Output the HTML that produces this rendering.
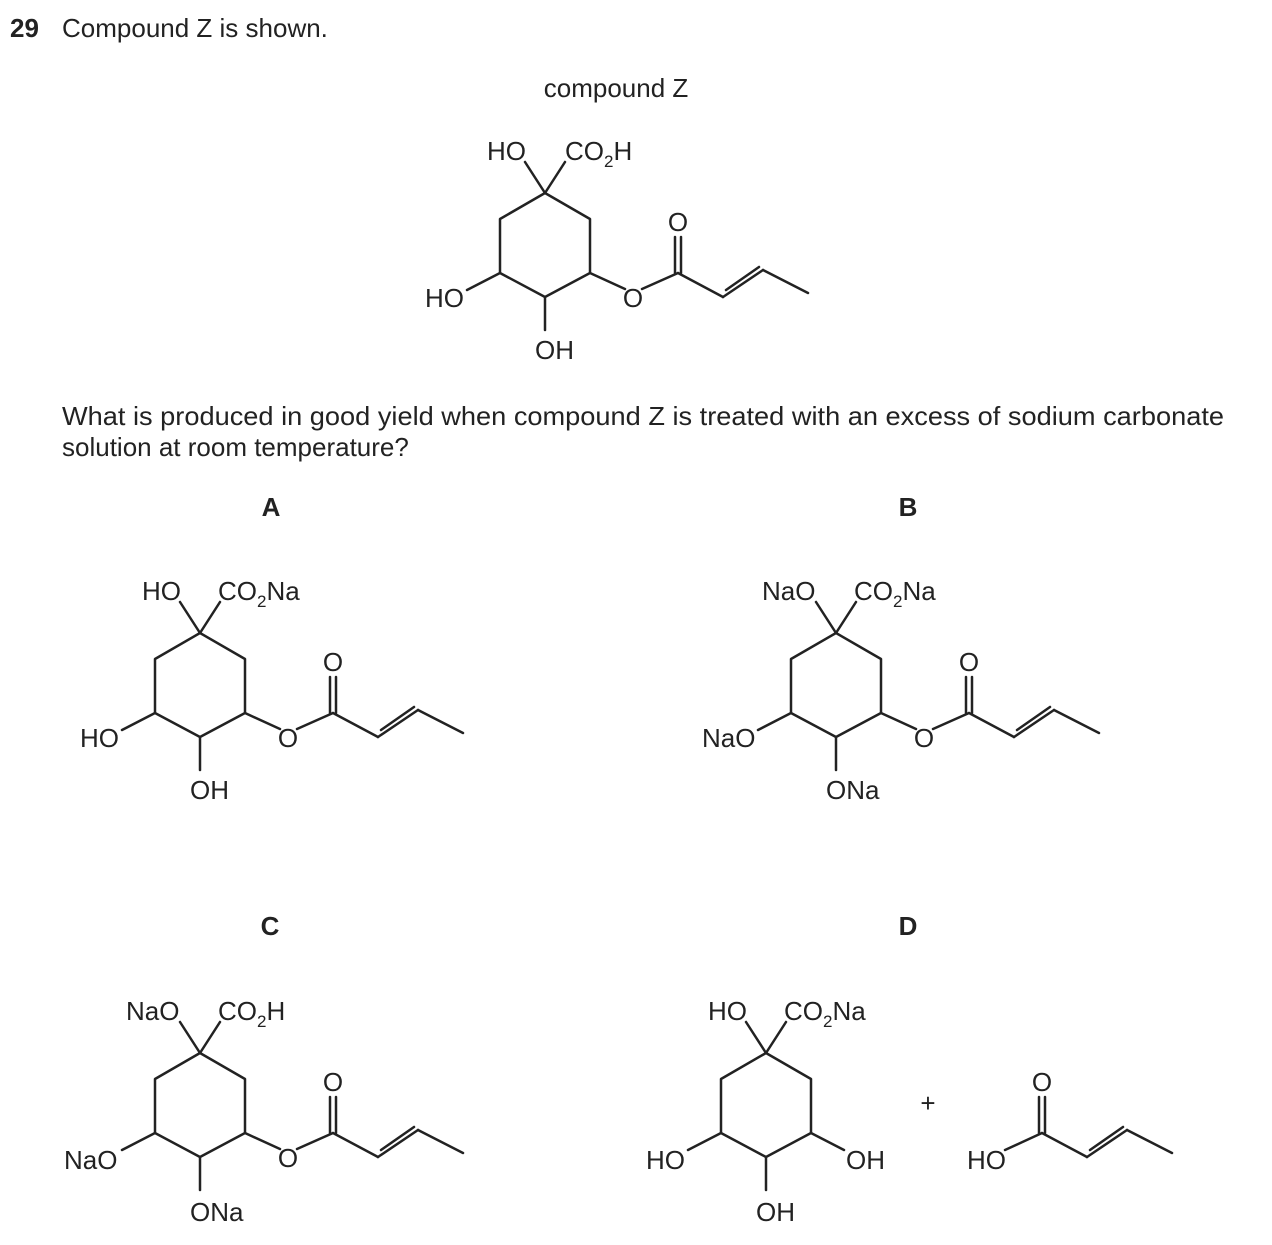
<!DOCTYPE html>
<html><head><meta charset="utf-8"><style>
html,body{margin:0;padding:0;background:#fff;}
svg{display:block;}
text{font-family:"Liberation Sans",sans-serif;font-size:26px;fill:#222;}
.b{font-weight:bold;}
line,polyline{stroke:#222;stroke-width:2.5;fill:none;stroke-linecap:round;}
</style></head><body>
<svg width="1272" height="1245" viewBox="0 0 1272 1245" xmlns="http://www.w3.org/2000/svg">
<defs>
<g id="ring">
<polygon points="0,0 -45,26 -45,80 0,104 45,80 45,26" style="stroke:#222;stroke-width:2.5;fill:none;stroke-linejoin:round"/>
<line x1="0" y1="0" x2="-20" y2="-31"/>
<line x1="0" y1="0" x2="20" y2="-31"/>
<line x1="-45" y1="80" x2="-78" y2="97"/>
<line x1="0" y1="104" x2="0" y2="137"/>
</g>
<g id="ester">
<line x1="45" y1="80" x2="80" y2="96"/>
<line x1="97" y1="96" x2="133" y2="80"/>
<line x1="130" y1="80" x2="130" y2="44"/>
<line x1="136" y1="80" x2="136" y2="44"/>
<line x1="133" y1="80" x2="178" y2="104"/>
<line x1="178" y1="104" x2="218" y2="77"/>
<line x1="181" y1="97" x2="214" y2="74"/>
<line x1="218" y1="77" x2="263" y2="100"/>
<text x="88" y="114" text-anchor="middle">O</text>
<text x="133" y="38" text-anchor="middle">O</text>
</g>
</defs>

<text x="10" y="37" class="b">29</text>
<text x="62" y="37">Compound Z is shown.</text>
<text x="616" y="97" text-anchor="middle">compound Z</text>

<!-- Z -->
<g transform="translate(545,193)">
<use href="#ring"/><use href="#ester"/>
<text x="-58" y="-33">HO</text>
<text x="20" y="-33">CO<tspan font-size="17" dy="7">2</tspan><tspan dy="-7">H</tspan></text>
<text x="-120" y="114">HO</text>
<text x="-10" y="166">OH</text>
</g>

<text x="62" y="425" textLength="1162" lengthAdjust="spacingAndGlyphs">What is produced in good yield when compound Z is treated with an excess of sodium carbonate</text>
<text x="62" y="456">solution at room temperature?</text>

<text x="271" y="516" text-anchor="middle" class="b">A</text>
<text x="908" y="516" text-anchor="middle" class="b">B</text>
<text x="270" y="935" text-anchor="middle" class="b">C</text>
<text x="908" y="935" text-anchor="middle" class="b">D</text>

<!-- A -->
<g transform="translate(200,633)">
<use href="#ring"/><use href="#ester"/>
<text x="-58" y="-33">HO</text>
<text x="18" y="-33">CO<tspan font-size="17" dy="7">2</tspan><tspan dy="-7">Na</tspan></text>
<text x="-120" y="114">HO</text>
<text x="-10" y="166">OH</text>
</g>

<!-- B -->
<g transform="translate(836,633)">
<use href="#ring"/><use href="#ester"/>
<text x="-74" y="-33">NaO</text>
<text x="18" y="-33">CO<tspan font-size="17" dy="7">2</tspan><tspan dy="-7">Na</tspan></text>
<text x="-134" y="114">NaO</text>
<text x="-10" y="166">ONa</text>
</g>

<!-- C -->
<g transform="translate(200,1053)">
<use href="#ring"/><use href="#ester"/>
<text x="-74" y="-33">NaO</text>
<text x="18" y="-33">CO<tspan font-size="17" dy="7">2</tspan><tspan dy="-7">H</tspan></text>
<text x="-136" y="116">NaO</text>
<text x="-10" y="168">ONa</text>
</g>

<!-- D -->
<g transform="translate(766,1053)">
<use href="#ring"/>
<line x1="45" y1="80" x2="78" y2="97"/>
<text x="-58" y="-33">HO</text>
<text x="18" y="-33">CO<tspan font-size="17" dy="7">2</tspan><tspan dy="-7">Na</tspan></text>
<text x="-120" y="116">HO</text>
<text x="-10" y="168">OH</text>
<text x="80" y="116">OH</text>
</g>

<text x="928" y="1112" text-anchor="middle">+</text>

<!-- acid -->
<line x1="1005" y1="1150" x2="1042" y2="1133"/>
<line x1="1039" y1="1133" x2="1039" y2="1097"/>
<line x1="1045" y1="1133" x2="1045" y2="1097"/>
<line x1="1042" y1="1133" x2="1087" y2="1157"/>
<line x1="1087" y1="1157" x2="1127" y2="1130"/>
<line x1="1090" y1="1150" x2="1123" y2="1127"/>
<line x1="1127" y1="1130" x2="1172" y2="1153"/>
<text x="1042" y="1091" text-anchor="middle">O</text>
<text x="967" y="1169">HO</text>
</svg>
</body></html>
